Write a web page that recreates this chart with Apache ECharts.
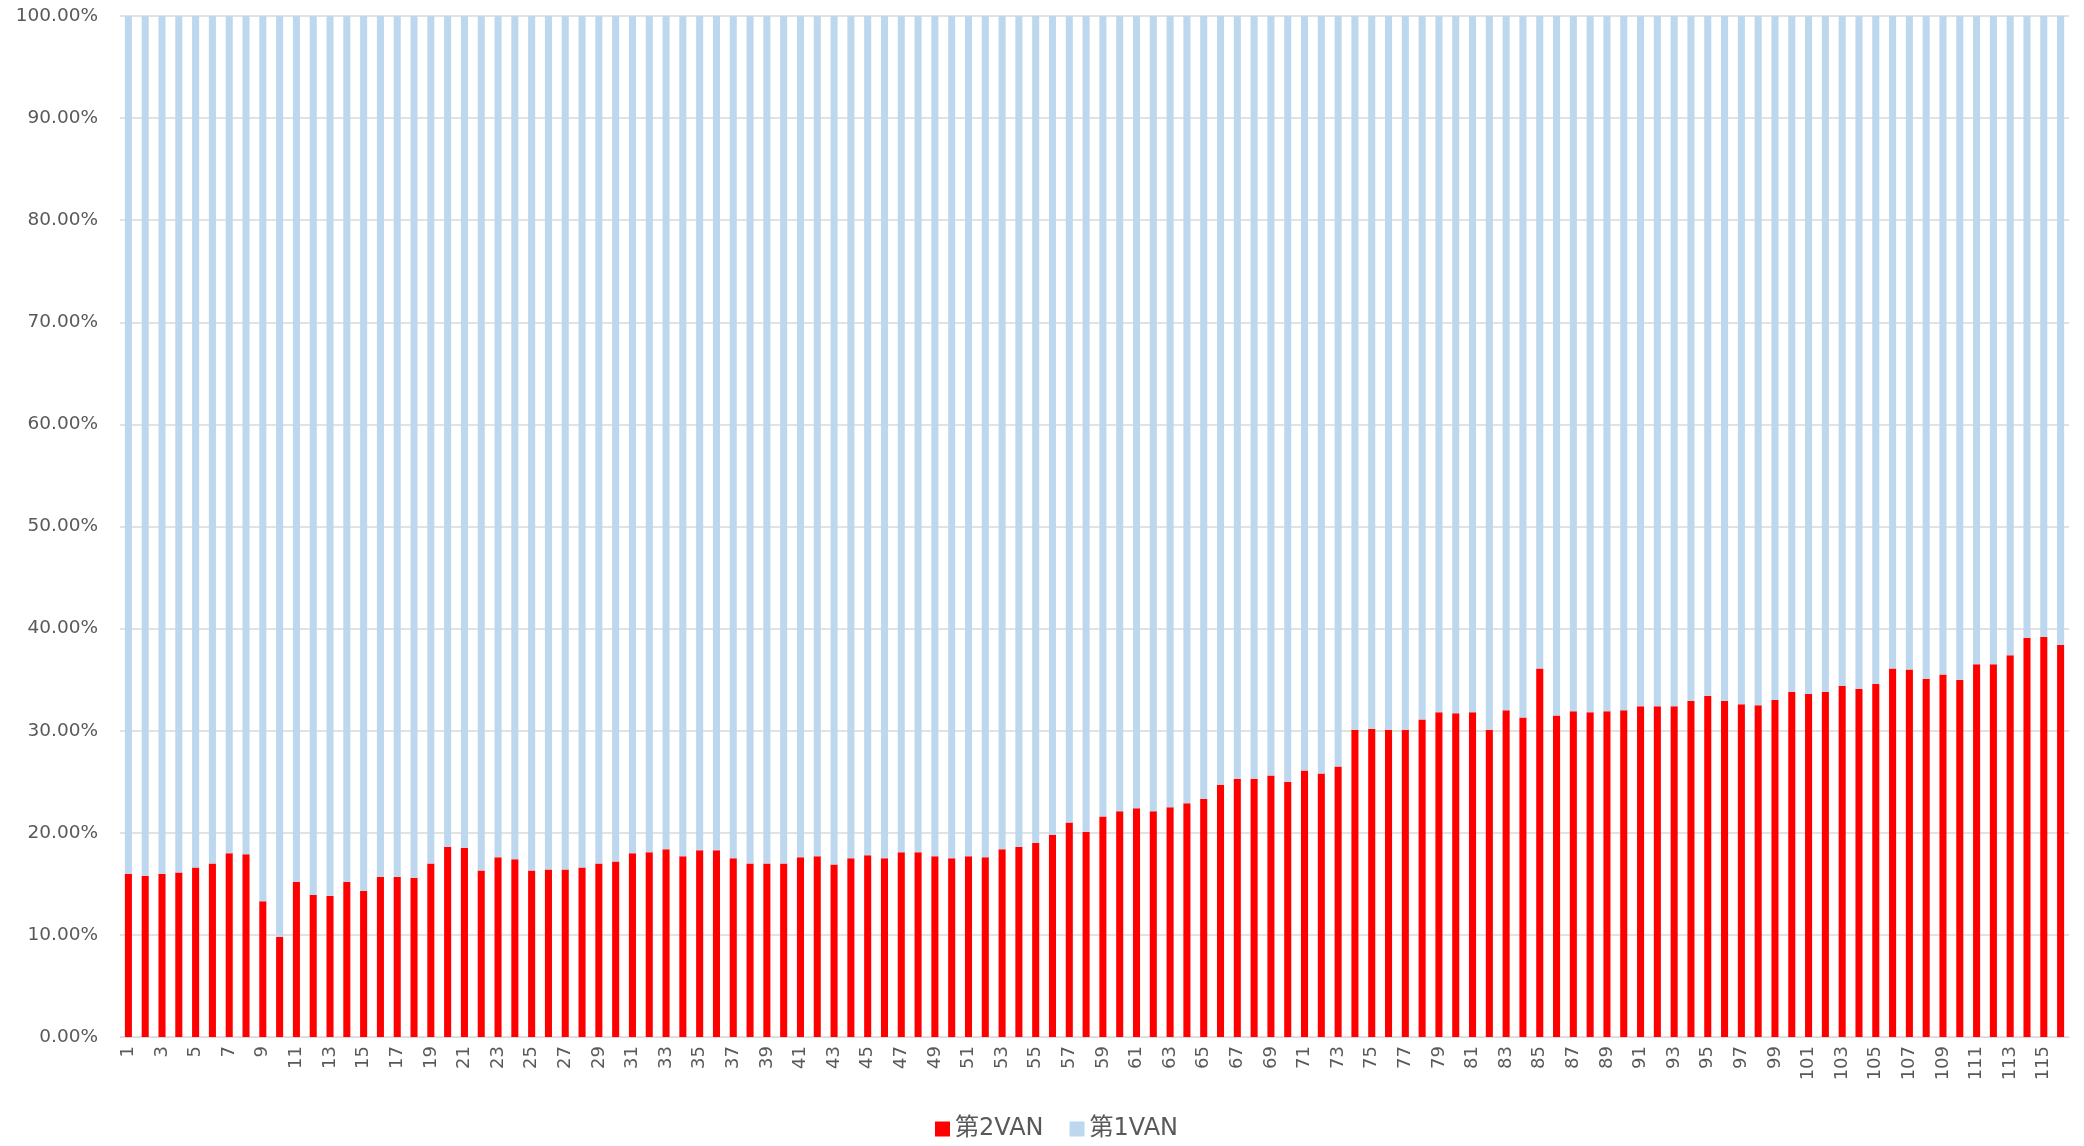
<!DOCTYPE html>
<html>
<head>
<meta charset="utf-8">
<title>VAN share</title>
<script src="https://cdn.jsdelivr.net/npm/echarts@6/dist/echarts.min.js"></script>
<style>
  html, body { margin: 0; padding: 0; background: #fff; }
  #chart { width: 2084px; height: 1146px; }
</style>
</head>
<body>
<div id="chart"></div>
<script>
// category labels 1..116
const categories = Array.from({ length: 116 }, (_, i) => String(i + 1));

// share of 第2VAN (%)
const van2 = [
  16.0, 15.8, 16.0, 16.1, 16.6, 17.0, 18.0, 17.9, 13.3, 9.8,
  15.2, 13.9, 13.8, 15.2, 14.3, 15.7, 15.7, 15.6, 17.0, 18.6,
  18.5, 16.3, 17.6, 17.4, 16.3, 16.4, 16.4, 16.6, 17.0, 17.2,
  18.0, 18.1, 18.4, 17.7, 18.3, 18.3, 17.5, 17.0, 17.0, 17.0,
  17.6, 17.7, 16.9, 17.5, 17.8, 17.5, 18.1, 18.1, 17.7, 17.5,
  17.7, 17.6, 18.4, 18.6, 19.0, 19.8, 21.0, 20.1, 21.6, 22.1,
  22.4, 22.1, 22.5, 22.9, 23.3, 24.7, 25.3, 25.3, 25.6, 25.0,
  26.1, 25.8, 26.5, 30.1, 30.2, 30.1, 30.1, 31.1, 31.8, 31.7,
  31.8, 30.1, 32.0, 31.3, 36.1, 31.5, 31.9, 31.8, 31.9, 32.0,
  32.4, 32.4, 32.4, 32.9, 33.4, 32.9, 32.6, 32.5, 33.0, 33.8,
  33.6, 33.8, 34.4, 34.1, 34.6, 36.1, 36.0, 35.1, 35.5, 35.0,
  36.5, 36.5, 37.4, 39.1, 39.2, 38.4
];

// share of 第1VAN (%)
const van1 = [
  84.0, 84.2, 84.0, 83.9, 83.4, 83.0, 82.0, 82.1, 86.7, 90.2,
  84.8, 86.1, 86.2, 84.8, 85.7, 84.3, 84.3, 84.4, 83.0, 81.4,
  81.5, 83.7, 82.4, 82.6, 83.7, 83.6, 83.6, 83.4, 83.0, 82.8,
  82.0, 81.9, 81.6, 82.3, 81.7, 81.7, 82.5, 83.0, 83.0, 83.0,
  82.4, 82.3, 83.1, 82.5, 82.2, 82.5, 81.9, 81.9, 82.3, 82.5,
  82.3, 82.4, 81.6, 81.4, 81.0, 80.2, 79.0, 79.9, 78.4, 77.9,
  77.6, 77.9, 77.5, 77.1, 76.7, 75.3, 74.7, 74.7, 74.4, 75.0,
  73.9, 74.2, 73.5, 69.9, 69.8, 69.9, 69.9, 68.9, 68.2, 68.3,
  68.2, 69.9, 68.0, 68.7, 63.9, 68.5, 68.1, 68.2, 68.1, 68.0,
  67.6, 67.6, 67.6, 67.1, 66.6, 67.1, 67.4, 67.5, 67.0, 66.2,
  66.4, 66.2, 65.6, 65.9, 65.4, 63.9, 64.0, 64.9, 64.5, 65.0,
  63.5, 63.5, 62.6, 60.9, 60.8, 61.6
];

const seriesNames = ['第2VAN', '第1VAN'];
const font = '"DejaVu Sans", "Noto Sans CJK JP", sans-serif';

const chart = echarts.init(document.getElementById('chart'));

chart.setOption({
    animation: false,
    textStyle: { fontFamily: font },
    grid: { left: 120, right: 15, top: 16, bottom: 109, containLabel: false },
    legend: {
        bottom: 0,
        left: 930,
        icon: 'rect',
        itemWidth: 15,
        itemHeight: 15,
        itemGap: 26,
        data: seriesNames,
        textStyle: { fontSize: 24, color: '#595959', fontFamily: font }
    },
    xAxis: {
        type: 'category',
        data: categories,
        axisLine: { lineStyle: { color: '#d9d9d9' } },
        axisTick: { show: false },
        axisLabel: {
            interval: 1,
            rotate: 90,
            fontSize: 18,
            color: '#595959',
            margin: 9
        }
    },
    yAxis: {
        type: 'value',
        min: 0,
        max: 100,
        interval: 10,
        axisLine: { show: false },
        axisTick: { show: false },
        splitLine: { lineStyle: { color: '#d9d9d9', width: 1.5 } },
        axisLabel: {
            fontSize: 18.5,
            color: '#595959',
            margin: 22,
            formatter: v => v.toFixed(2) + '%'
        }
    },
    series: [
        {
            name: seriesNames[0],
            type: 'bar',
            stack: 'share',
            barWidth: '42%',
            itemStyle: { color: '#ff0000' },
            data: van2
        },
        {
            name: seriesNames[1],
            type: 'bar',
            stack: 'share',
            barWidth: '42%',
            itemStyle: { color: '#bdd7ee' },
            data: van1
        }
    ]
});
</script>
</body>
</html>
